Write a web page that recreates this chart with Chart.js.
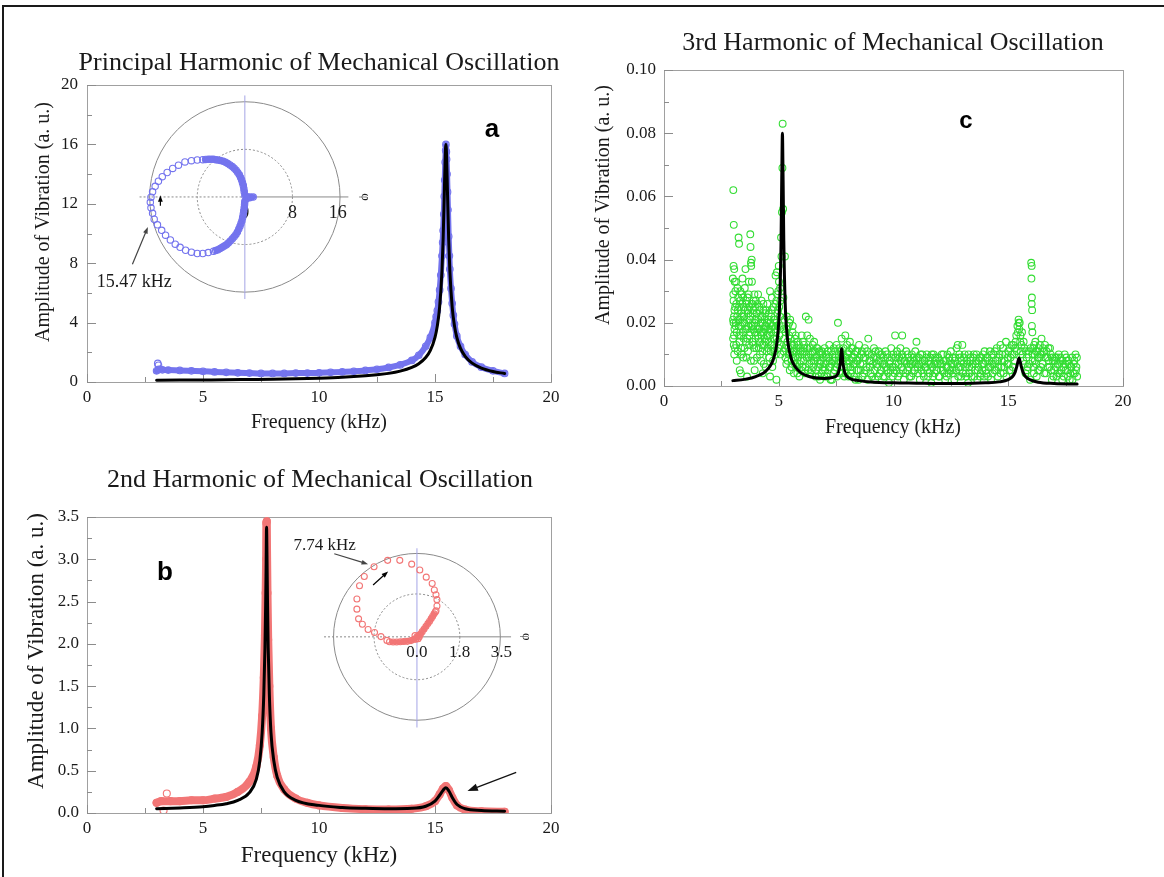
<!DOCTYPE html>
<html>
<head>
<meta charset="utf-8">
<title>Harmonics of Mechanical Oscillation</title>
<script src="https://cdn.jsdelivr.net/npm/chart.js@4.4.0/dist/chart.umd.min.js"></script>
<style>
    html, body { margin: 0; padding: 0; background: #fff; }
    #fig { position: relative; width: 1164px; height: 877px; overflow: hidden; background: #fff; }
    #fig canvas { position: absolute; }
    .frame { position: absolute; left: 2px; top: 5px; width: 1200px; height: 900px;
             border-top: 2px solid #1a1a1a; border-left: 2px solid #1a1a1a; }
</style>
</head>
<body>
<div id="fig">
    <div class="frame"></div>
    <canvas id="chartA"></canvas>
    <canvas id="chartB"></canvas>
    <canvas id="chartC"></canvas>
    <canvas id="insetA"></canvas>
    <canvas id="insetB"></canvas>
</div>
<script>
// ---------- data ----------

// (a) principal harmonic, fit (black) and measured (blue)
const aFitFreq = [3, 4, 5, 6, 7, 8, 9, 10, 11, 12, 12.5, 13, 13.5, 14, 14.3, 14.6, 14.8, 15.0, 15.1, 15.2, 15.3, 15.35, 15.4, 15.44, 15.47, 15.5, 15.54, 15.59, 15.64, 15.74, 15.84, 15.94, 16.1, 16.3, 16.6, 17, 17.5, 18];
const aFitAmp  = [0.12, 0.13, 0.14, 0.15, 0.17, 0.19, 0.22, 0.26, 0.32, 0.42, 0.49, 0.58, 0.73, 0.98, 1.23, 1.65, 2.13, 3.01, 3.78, 5.06, 7.48, 9.6, 12.63, 15.18, 16.0, 15.18, 12.63, 9.6, 7.48, 5.06, 3.78, 3.01, 2.26, 1.73, 1.27, 0.94, 0.71, 0.57];
const aDataFreq = [3.0, 3.1, 3.25, 3.5, 4, 4.5, 5, 5.5, 6, 6.5, 7, 7.5, 8, 8.5, 9, 9.5, 10, 10.5, 11, 11.5, 12, 12.5, 13, 13.5, 14, 14.3, 14.6, 14.8, 15.0, 15.05, 15.1, 15.15, 15.2, 15.25, 15.3, 15.33, 15.35, 15.38, 15.4, 15.42, 15.44, 15.46, 15.47, 15.49, 15.5, 15.52, 15.54, 15.56, 15.59, 15.62, 15.64, 15.69, 15.74, 15.79, 15.84, 15.94, 16.1, 16.3, 16.6, 17, 17.5, 18];
const aDataAmp  = [0.75, 0.85, 0.82, 0.8, 0.78, 0.75, 0.72, 0.68, 0.65, 0.62, 0.6, 0.58, 0.58, 0.58, 0.6, 0.6, 0.62, 0.65, 0.68, 0.72, 0.78, 0.86, 0.98, 1.15, 1.45, 1.8, 2.4, 3.0, 4.0, 4.4, 4.8, 5.4, 6.2, 7.2, 8.5, 9.4, 10.2, 11.3, 12.5, 13.6, 14.8, 15.6, 16.0, 15.5, 15.0, 14.0, 12.8, 11.6, 9.8, 8.5, 7.6, 6.3, 5.3, 4.5, 3.9, 3.1, 2.4, 1.85, 1.35, 1.0, 0.75, 0.58];
const aExtraFreq = [3.05, 3.08];
const aExtraAmp  = [1.25, 1.12];

// (a) inset, polar plot (x = A cos phi, y = A sin phi)
const aPolarDense = [[-7.07, 6.31], [-6.6, 6.35], [-6.15, 6.37], [-5.7, 6.38], [-5.27, 6.37], [-4.9, 6.32], [-4.52, 6.26], [-4.1, 6.16], [-3.64, 6.04], [-3.25, 5.87], [-2.88, 5.66], [-2.5, 5.42], [-2.12, 5.17], [-1.8, 4.86], [-1.47, 4.52], [-1.2, 4.15], [-0.93, 3.75], [-0.72, 3.3], [-0.54, 2.88], [-0.4, 2.4], [-0.27, 1.96], [-0.17, 1.4], [-0.11, 0.87], [0.0, 0.2], [0.4, 0.05], [0.9, 0.0], [1.4, -0.03], [0.8, -0.15], [0.3, -0.25], [0.0, -0.76], [-0.05, -1.3], [-0.11, -1.85], [-0.18, -2.4], [-0.27, -2.94], [-0.37, -3.5], [-0.49, -4.03], [-0.65, -4.5], [-0.82, -4.95], [-1.02, -5.45], [-1.25, -5.93], [-1.5, -6.35], [-1.8, -6.74], [-2.1, -7.1], [-2.45, -7.46], [-2.78, -7.8], [-3.1, -8.11], [-3.45, -8.33], [-3.8, -8.54], [-4.15, -8.75], [-4.52, -8.93], [-4.9, -9.07], [-5.27, -9.19]];
const aPolarSparse = [[-8.0, 6.26], [-8.98, 6.15], [-10.07, 5.93], [-11.16, 5.39], [-12.13, 4.84], [-13.06, 4.14], [-13.88, 3.43], [-14.53, 2.67], [-15.08, 1.8], [-15.51, 0.87], [-15.78, -0.05], [-15.89, -0.92], [-15.78, -1.85], [-15.51, -2.78], [-15.24, -3.76], [-14.69, -4.73], [-13.98, -5.66], [-13.33, -6.48], [-12.52, -7.29], [-11.7, -8.0], [-10.89, -8.54], [-9.96, -9.03], [-8.98, -9.36], [-8.0, -9.58], [-7.07, -9.58], [-6.15, -9.42]];

// (b) second harmonic, fit (black) and measured (red)
const bFitFreq = [3, 4, 5, 5.5, 6, 6.5, 7, 7.3, 7.45, 7.55, 7.62, 7.67, 7.7, 7.72, 7.74, 7.76, 7.78, 7.81, 7.86, 7.93, 8.05, 8.2, 8.5, 9, 10, 11, 12, 13, 14, 14.6, 15.0, 15.2, 15.35, 15.47, 15.6, 15.75, 15.95, 16.3, 17, 18];
const bFitAmp  = [0.05, 0.06, 0.075, 0.09, 0.11, 0.15, 0.24, 0.4, 0.62, 0.95, 1.4, 1.95, 2.45, 2.9, 3.38, 3.0, 2.5, 1.95, 1.4, 0.95, 0.62, 0.42, 0.25, 0.15, 0.09, 0.065, 0.055, 0.05, 0.055, 0.08, 0.14, 0.21, 0.27, 0.3, 0.26, 0.18, 0.1, 0.05, 0.03, 0.02];
const bDataFreq = [3.0, 3.2, 3.6, 4, 4.5, 5, 5.5, 6, 6.5, 7, 7.3, 7.45, 7.55, 7.62, 7.67, 7.7, 7.72, 7.73, 7.75, 7.76, 7.78, 7.81, 7.86, 7.93, 8.05, 8.2, 8.5, 9, 9.5, 10, 11, 12, 13, 14, 14.6, 15.0, 15.2, 15.35, 15.47, 15.6, 15.75, 15.95, 16.3, 17, 18];
const bDataAmp  = [0.12, 0.14, 0.14, 0.14, 0.15, 0.15, 0.17, 0.19, 0.25, 0.37, 0.55, 0.8, 1.15, 1.6, 2.1, 2.6, 3.0, 3.43, 3.45, 3.1, 2.6, 2.05, 1.5, 1.0, 0.66, 0.44, 0.28, 0.17, 0.12, 0.09, 0.06, 0.045, 0.04, 0.05, 0.08, 0.14, 0.22, 0.29, 0.32, 0.27, 0.18, 0.09, 0.04, 0.02, 0.015];
const bExtraFreq = [3.44, 3.3];
const bExtraAmp  = [0.23, 0.03];

// (b) inset, polar plot
const bPolarDense = [[-1.15, -0.21], [-1.0, -0.22], [-0.85, -0.22], [-0.7, -0.21], [-0.55, -0.2], [-0.4, -0.19], [-0.25, -0.16], [-0.12, -0.1], [0, 0], [0.08, 0.06], [0.15, 0.12], [0.22, 0.22], [0.3, 0.33], [0.38, 0.45], [0.46, 0.56], [0.53, 0.66], [0.6, 0.77], [0.66, 0.87], [0.72, 0.97], [0.77, 1.05]];
const bPolarSparse = [[0.80, 1.10], [0.84, 1.30], [0.84, 1.57], [0.80, 1.78], [0.73, 1.98], [0.64, 2.25], [0.39, 2.52], [0.12, 2.82], [-0.22, 3.07], [-0.72, 3.23], [-1.23, 3.23], [-1.80, 2.96], [-2.21, 2.55], [-2.41, 2.16], [-2.52, 1.60], [-2.52, 1.17], [-2.45, 0.76], [-2.29, 0.53], [-2.05, 0.31], [-1.78, 0.18], [-1.51, 0.01], [-1.26, -0.15], [0.05, -0.08], [-0.08, 0.05], [0.1, 0.0], [-0.05, -0.1]];

// (c) third harmonic, fit (black) and measured (green)
const cFitFreq = [3.0, 3.5, 4.0, 4.5, 4.8, 4.95, 5.04, 5.1, 5.13, 5.16, 5.19, 5.22, 5.28, 5.37, 5.52, 5.82, 6.32, 7.0, 7.4, 7.6, 7.68, 7.74, 7.8, 7.88, 8.1, 8.5, 9, 10, 11, 12, 13, 14, 14.6, 15.0, 15.2, 15.3, 15.38, 15.47, 15.56, 15.64, 15.74, 15.94, 16.3, 17, 18];
const cFitAmp  = [0.0017, 0.0021, 0.003, 0.0052, 0.0093, 0.0157, 0.0264, 0.0459, 0.0651, 0.08, 0.0651, 0.0459, 0.0264, 0.0157, 0.0093, 0.0052, 0.003, 0.0024, 0.0028, 0.0043, 0.0071, 0.0118, 0.0071, 0.0042, 0.0024, 0.0017, 0.0013, 0.001, 0.0009, 0.0008, 0.0008, 0.001, 0.0013, 0.002, 0.0031, 0.0044, 0.0064, 0.0089, 0.0064, 0.0044, 0.0031, 0.002, 0.0012, 0.0008, 0.0006];
const cData = [
    [3.02,0.062],[3.04,0.051],[3.03,0.038],[3.06,0.037],[3.0,0.034],[3.08,0.033],[3.02,0.029],[3.05,0.022],[3.03,0.020],[3.07,0.018],[3.01,0.015],[3.04,0.013],[3.06,0.010],[3.1,0.025],[3.12,0.019],[3.14,0.033],[3.15,0.013],[3.17,0.008],[3.2,0.031],[3.22,0.024],[3.24,0.021],[3.25,0.047],[3.27,0.045],[3.28,0.016],[3.3,0.005],[3.32,0.027],[3.34,0.019],[3.36,0.012],[3.38,0.029],[3.4,0.022],[3.42,0.034],[3.44,0.017],[3.46,0.009],[3.48,0.025],
    [3.5,0.020],[3.52,0.031],[3.55,0.037],[3.57,0.014],[3.6,0.026],[3.62,0.018],[3.64,0.028],[3.66,0.011],[3.68,0.023],[3.7,0.033],[3.72,0.016],[3.74,0.021],[3.76,0.048],[3.77,0.044],[3.79,0.039],[3.8,0.038],[3.82,0.040],[3.83,0.033],[3.85,0.026],[3.87,0.019],[3.89,0.013],[3.9,0.024],[3.92,0.008],[3.94,0.029],[3.96,0.017],[3.98,0.021],[4.0,0.027],[4.02,0.012],[4.05,0.023],[4.07,0.018],[4.1,0.029],[4.12,0.015],[4.15,0.025],[4.18,0.010],[4.2,0.022],[4.22,0.017],[4.25,0.027],[4.28,0.013],[4.3,0.020],[4.33,0.024],[4.35,0.007],[4.38,0.018],[4.4,0.023],[4.42,0.014],[4.45,0.019],[4.48,0.011],
    [4.5,0.026],[4.52,0.016],[4.55,0.021],[4.58,0.009],[4.6,0.018],[4.62,0.030],[4.65,0.013],[4.68,0.022],[4.7,0.028],[4.72,0.006],[4.75,0.019],[4.78,0.025],[4.8,0.015],[4.82,0.011],[4.84,0.021],[4.86,0.035],[4.88,0.017],[4.9,0.027],[4.92,0.036],[4.94,0.023],[4.96,0.014],[4.98,0.030],[5.0,0.038],[5.02,0.025],[5.04,0.019],[5.06,0.031],[5.08,0.010],[5.1,0.047],[5.12,0.041],[5.14,0.055],[5.16,0.069],[5.17,0.083],[5.19,0.056],[5.2,0.028],[5.22,0.018],[5.25,0.021],[5.27,0.041],[5.28,0.012],[5.3,0.017],[5.33,0.007],[5.35,0.022],[5.38,0.014],[5.4,0.019],[5.43,0.010],[5.45,0.016],[5.48,0.005],
    [5.5,0.021],[5.53,0.013],[5.56,0.008],[5.6,0.017],[5.63,0.011],[5.66,0.004],[5.7,0.015],[5.73,0.009],[5.76,0.012],[5.8,0.006],[5.83,0.014],[5.86,0.010],[5.9,0.003],[5.93,0.012],[5.96,0.008],[6.0,0.016],[6.03,0.006],[6.06,0.011],[6.1,0.013],[6.14,0.004],[6.18,0.022],[6.22,0.009],[6.25,0.012],[6.3,0.021],[6.33,0.007],[6.36,0.015],[6.4,0.010],[6.44,0.005],[6.48,0.013],[6.52,0.008],[6.56,0.011],[6.6,0.003],[6.64,0.009],[6.68,0.012],[6.72,0.006],[6.76,0.010],[6.8,0.002],[6.84,0.008],[6.88,0.011],[6.92,0.005],[6.96,0.009],
    [7.0,0.012],[7.04,0.007],[7.08,0.010],[7.12,0.004],[7.16,0.009],[7.2,0.013],[7.24,0.006],[7.28,0.011],[7.32,0.002],[7.36,0.008],[7.4,0.012],[7.44,0.005],[7.48,0.009],[7.52,0.013],[7.56,0.007],[7.58,0.020],[7.62,0.010],[7.66,0.004],[7.7,0.011],[7.74,0.015],[7.78,0.008],[7.82,0.012],[7.86,0.003],[7.9,0.016],[7.94,0.009],[7.98,0.013],[8.02,0.006],[8.06,0.011],[8.1,0.014],[8.14,0.004],[8.18,0.009],[8.22,0.012],[8.26,0.007],[8.3,0.010],[8.34,0.002],[8.38,0.008],[8.42,0.011],[8.46,0.005],
    [8.5,0.013],[8.55,0.007],[8.6,0.010],[8.65,0.003],[8.7,0.009],[8.75,0.012],[8.8,0.005],[8.85,0.011],[8.9,0.015],[8.95,0.008],[9.0,0.004],[9.05,0.010],[9.1,0.007],[9.15,0.012],[9.2,0.002],[9.25,0.009],[9.3,0.006],[9.35,0.011],[9.4,0.004],[9.45,0.008],[9.5,0.010],[9.55,0.003],[9.6,0.007],[9.65,0.011],[9.7,0.005],[9.75,0.009],[9.8,0.001],[9.85,0.008],[9.9,0.012],[9.95,0.006],
    [10.0,0.010],[10.05,0.004],[10.07,0.016],[10.1,0.007],[10.15,0.011],[10.2,0.003],[10.25,0.009],[10.3,0.012],[10.35,0.006],[10.38,0.016],[10.4,0.009],[10.45,0.002],[10.5,0.008],[10.55,0.011],[10.6,0.005],[10.65,0.009],[10.7,0.003],[10.75,0.007],[10.8,0.010],[10.85,0.004],[10.9,0.008],[10.95,0.011],[11.0,0.014],[11.05,0.006],[11.1,0.009],[11.15,0.002],[11.2,0.007],[11.25,0.010],[11.3,0.004],[11.35,0.008],[11.4,0.006],[11.45,0.010],[11.5,0.003],[11.55,0.007],[11.6,0.009],[11.65,0.001],[11.7,0.006],[11.75,0.010],[11.8,0.004],[11.85,0.008],[11.9,0.005],[11.95,0.009],
    [12.0,0.003],[12.05,0.007],[12.1,0.010],[12.15,0.005],[12.2,0.008],[12.25,0.002],[12.3,0.006],[12.35,0.010],[12.4,0.004],[12.45,0.008],[12.5,0.011],[12.55,0.005],[12.6,0.007],[12.65,0.002],[12.7,0.009],[12.75,0.012],[12.8,0.013],[12.85,0.006],[12.9,0.009],[12.95,0.003],[13.0,0.013],[13.05,0.007],[13.1,0.010],[13.15,0.004],[13.2,0.008],[13.25,0.001],[13.3,0.006],[13.35,0.009],[13.4,0.003],[13.45,0.007],[13.5,0.010],[13.55,0.005],[13.6,0.008],[13.65,0.002],[13.7,0.006],[13.75,0.009],[13.8,0.004],[13.85,0.007],[13.9,0.010],[13.95,0.003],
    [14.0,0.008],[14.05,0.004],[14.1,0.009],[14.15,0.006],[14.2,0.011],[14.25,0.002],[14.3,0.007],[14.35,0.010],[14.4,0.005],[14.45,0.008],[14.5,0.012],[14.55,0.003],[14.6,0.009],[14.66,0.013],[14.7,0.006],[14.75,0.010],[14.8,0.004],[14.85,0.008],[14.9,0.014],[14.95,0.007],[15.0,0.011],[15.05,0.005],[15.1,0.009],[15.15,0.013],[15.2,0.006],[15.25,0.010],[15.3,0.012],[15.35,0.016],[15.4,0.019],[15.45,0.021],[15.48,0.018],[15.5,0.020],[15.52,0.014],[15.55,0.011],[15.6,0.017],[15.65,0.008],[15.7,0.012],[15.75,0.004],[15.8,0.009],[15.85,0.006],[15.9,0.011],[15.95,0.002],
    [16.0,0.039],[16.02,0.038],[16.01,0.034],[16.03,0.028],[16.02,0.026],[16.04,0.024],[16.03,0.019],[16.05,0.017],[16.07,0.010],[16.1,0.006],[16.13,0.013],[16.16,0.008],[16.2,0.011],[16.24,0.003],[16.28,0.009],[16.32,0.012],[16.36,0.005],[16.4,0.010],[16.45,0.015],[16.5,0.007],[16.55,0.011],[16.6,0.013],[16.65,0.004],[16.7,0.009],[16.75,0.012],[16.8,0.006],[16.85,0.010],[16.9,0.002],[16.95,0.008],[17.0,0.005],[17.05,0.009],[17.1,0.003],[17.15,0.007],[17.2,0.010],[17.25,0.004],[17.3,0.008],[17.35,0.002],[17.4,0.006],[17.46,0.010],[17.5,0.005],[17.55,0.008],[17.6,0.003],[17.65,0.007],[17.7,0.004],[17.75,0.006],[17.8,0.002],[17.85,0.007],[17.9,0.004],[17.93,0.010],[17.97,0.006],[18.0,0.003]
];
// second pass over the dense part of the green cloud
const cDataDense = [
    [3.01,0.021],[3.03,0.027],[3.05,0.016],[3.07,0.024],[3.09,0.012],[3.11,0.030],[3.13,0.020],[3.15,0.026],[3.17,0.017],[3.19,0.022],[3.21,0.011],[3.23,0.028],[3.25,0.019],[3.27,0.025],[3.29,0.014],[3.31,0.021],[3.33,0.030],[3.35,0.016],[3.37,0.023],[3.39,0.010],[3.41,0.026],[3.43,0.020],[3.45,0.028],[3.47,0.015],[3.49,0.022],[3.51,0.012],[3.53,0.024],[3.55,0.018],[3.57,0.027],[3.59,0.009],[3.61,0.021],[3.63,0.015],[3.65,0.024],[3.67,0.019],[3.69,0.029],[3.71,0.013],[3.73,0.025],[3.75,0.017],[3.77,0.022],[3.79,0.008],[3.81,0.019],[3.83,0.026],[3.85,0.014],[3.87,0.023],[3.89,0.018],[3.91,0.027],[3.93,0.012],[3.95,0.020],[3.97,0.025],[3.99,0.015],
    [4.01,0.019],[4.03,0.023],[4.05,0.009],[4.07,0.026],[4.09,0.016],[4.11,0.021],[4.13,0.012],[4.15,0.018],[4.17,0.024],[4.19,0.014],[4.21,0.020],[4.23,0.008],[4.25,0.016],[4.27,0.022],[4.29,0.011],[4.31,0.017],[4.33,0.026],[4.35,0.013],[4.37,0.021],[4.39,0.015],[4.41,0.019],[4.43,0.006],[4.45,0.024],[4.47,0.016],[4.49,0.020],[4.51,0.012],[4.53,0.018],[4.55,0.014],[4.57,0.023],[4.59,0.009],[4.61,0.016],[4.63,0.020],[4.65,0.011],[4.67,0.017],[4.69,0.024],[4.71,0.013],[4.73,0.019],[4.75,0.008],[4.77,0.015],[4.79,0.021],[4.81,0.012],[4.83,0.018],[4.85,0.026],[4.87,0.010],[4.89,0.020],[4.91,0.015],[4.93,0.029],[4.95,0.019],[4.97,0.024],[4.99,0.012],[5.01,0.033],[5.03,0.016],[5.05,0.022],[5.07,0.027],[5.09,0.013],
    [3.35,0.004],[3.62,0.003],[3.95,0.005],[4.3,0.004],[4.62,0.003],[4.9,0.002],
    [5.21,0.011],[5.24,0.015],[5.29,0.009],[5.32,0.013],[5.36,0.018],[5.39,0.008],[5.42,0.012],[5.46,0.020],[5.49,0.010],[5.52,0.015],[5.55,0.006],[5.58,0.012],[5.61,0.019],[5.64,0.009],[5.67,0.013],[5.71,0.007],[5.74,0.016],[5.77,0.011],[5.81,0.004],[5.84,0.009],[5.88,0.013],[5.91,0.007],[5.95,0.011],[5.98,0.005],[6.02,0.010],[6.05,0.014],[6.08,0.008],[6.12,0.012],[6.16,0.006],[6.2,0.010],[6.24,0.016],[6.28,0.005],[6.31,0.009],[6.35,0.012],[6.38,0.004],[6.42,0.008],[6.46,0.011],[6.5,0.006],[6.54,0.014],[6.58,0.009],[6.62,0.005],[6.66,0.012],[6.7,0.008],[6.74,0.003],[6.78,0.011],[6.82,0.007],[6.86,0.004],[6.9,0.010],[6.94,0.006],[6.98,0.003],
    [7.02,0.005],[7.06,0.009],[7.1,0.003],[7.14,0.011],[7.18,0.006],[7.22,0.008],[7.26,0.002],[7.3,0.007],[7.34,0.010],[7.38,0.004],[7.42,0.008],[7.46,0.011],[7.5,0.006],[7.54,0.003],[7.6,0.008],[7.64,0.012],[7.68,0.006],[7.72,0.009],[7.76,0.004],[7.8,0.010],[7.84,0.006],[7.88,0.009],[7.92,0.004],[7.96,0.007],[8.0,0.010],[8.04,0.003],[8.08,0.008],[8.12,0.006],[8.16,0.012],[8.2,0.005],[8.24,0.009],[8.28,0.003],[8.32,0.007],[8.36,0.011],[8.4,0.005],[8.44,0.008],[8.48,0.002],
    [8.52,0.009],[8.57,0.005],[8.62,0.011],[8.67,0.007],[8.72,0.004],[8.77,0.009],[8.82,0.006],[8.87,0.002],[8.92,0.010],[8.97,0.006],[9.02,0.008],[9.07,0.003],[9.12,0.009],[9.17,0.005],[9.22,0.011],[9.27,0.007],[9.32,0.003],[9.37,0.008],[9.42,0.010],[9.47,0.005],[9.52,0.007],[9.57,0.009],[9.62,0.003],[9.67,0.006],[9.72,0.010],[9.77,0.004],[9.82,0.007],[9.87,0.005],[9.92,0.009],[9.97,0.003],
    [10.02,0.006],[10.08,0.009],[10.12,0.005],[10.17,0.010],[10.22,0.007],[10.27,0.004],[10.32,0.008],[10.37,0.010],[10.42,0.005],[10.47,0.008],[10.52,0.004],[10.57,0.007],[10.62,0.010],[10.67,0.006],[10.72,0.008],[10.77,0.003],[10.82,0.007],[10.87,0.009],[10.92,0.005],[10.97,0.007],[11.02,0.009],[11.07,0.004],[11.12,0.007],[11.17,0.010],[11.22,0.005],[11.27,0.008],[11.32,0.003],[11.37,0.006],[11.42,0.009],[11.47,0.005],[11.52,0.008],[11.57,0.004],[11.62,0.007],[11.67,0.010],[11.72,0.003],[11.77,0.007],[11.82,0.009],[11.87,0.005],[11.92,0.007],[11.97,0.003],
    [12.02,0.008],[12.07,0.005],[12.12,0.007],[12.17,0.010],[12.22,0.004],[12.27,0.008],[12.32,0.003],[12.37,0.006],[12.42,0.009],[12.47,0.005],[12.52,0.007],[12.57,0.009],[12.62,0.004],[12.67,0.008],[12.72,0.005],[12.77,0.007],[12.82,0.003],[12.87,0.010],[12.92,0.006],[12.97,0.008],[13.02,0.004],[13.07,0.009],[13.12,0.006],[13.17,0.003],[13.22,0.007],[13.27,0.010],[13.32,0.004],[13.37,0.008],[13.42,0.006],[13.47,0.009],[13.52,0.003],[13.57,0.007],[13.62,0.010],[13.67,0.005],[13.72,0.008],[13.77,0.003],[13.82,0.009],[13.87,0.005],[13.92,0.007],[13.97,0.011],
    [14.02,0.005],[14.07,0.009],[14.12,0.003],[14.17,0.008],[14.22,0.006],[14.27,0.010],[14.32,0.004],[14.37,0.007],[14.42,0.011],[14.47,0.005],[14.52,0.008],[14.57,0.006],[14.62,0.010],[14.67,0.004],[14.72,0.008],[14.77,0.012],[14.82,0.006],[14.87,0.010],[14.92,0.003],[14.97,0.009],
    [15.02,0.007],[15.07,0.012],[15.12,0.005],[15.17,0.010],[15.22,0.013],[15.27,0.008],[15.32,0.014],[15.37,0.011],[15.42,0.017],[15.46,0.020],[15.53,0.016],[15.58,0.013],[15.62,0.010],[15.67,0.014],[15.72,0.007],[15.77,0.011],[15.82,0.005],[15.87,0.010],[15.92,0.007],[15.97,0.012],
    [16.06,0.008],[16.09,0.012],[16.12,0.004],[16.15,0.010],[16.18,0.014],[16.22,0.007],[16.26,0.011],[16.3,0.005],[16.34,0.009],[16.38,0.013],[16.42,0.006],[16.47,0.010],[16.52,0.012],[16.57,0.004],[16.62,0.009],[16.67,0.011],[16.72,0.006],[16.77,0.008],[16.82,0.012],[16.87,0.005],[16.92,0.009],[16.97,0.003],
    [17.02,0.008],[17.07,0.006],[17.12,0.009],[17.17,0.004],[17.22,0.007],[17.27,0.009],[17.32,0.005],[17.37,0.008],[17.42,0.003],[17.48,0.007],[17.53,0.009],[17.58,0.005],[17.63,0.008],[17.68,0.002],[17.73,0.006],[17.78,0.009],[17.83,0.004],[17.88,0.008],[17.95,0.005],[17.99,0.009]
];

// ---------- styling ----------
const SERIF = "'Liberation Serif', 'Times New Roman', serif";
const SANS = "'Liberation Sans', Arial, sans-serif";
const BLUE = '#7474ee';
const RED = '#f27676';
const GREEN = '#33dd33';

const xy = (fs, as) => fs.map((f, i) => ({ x: f, y: as[i] }));
const pairs = list => list.map(([x, y]) => ({ x, y }));

function drawArrow(ctx, x1, y1, x2, y2, color, head) {
    const ang = Math.atan2(y2 - y1, x2 - x1);
    ctx.strokeStyle = color;
    ctx.fillStyle = color;
    ctx.lineWidth = 1.2;
    ctx.beginPath();
    ctx.moveTo(x1, y1);
    ctx.lineTo(x2 - Math.cos(ang) * head * 0.6, y2 - Math.sin(ang) * head * 0.6);
    ctx.stroke();
    ctx.beginPath();
    ctx.moveTo(x2, y2);
    ctx.lineTo(x2 - head * Math.cos(ang - 0.35), y2 - head * Math.sin(ang - 0.35));
    ctx.lineTo(x2 - head * Math.cos(ang + 0.35), y2 - head * Math.sin(ang + 0.35));
    ctx.closePath();
    ctx.fill();
}

// frame, inward ticks, titles and panel letter
const panelDecor = {
    id: 'panelDecor',
    beforeDatasetsDraw(chart, args, o) {
        const { ctx, chartArea: a, scales: { x, y } } = chart;
        ctx.save();
        ctx.strokeStyle = '#a0a0a0';
        ctx.lineWidth = 1;
        ctx.strokeRect(Math.round(a.left) + 0.5, Math.round(a.top) + 0.5, Math.round(a.right - a.left), Math.round(a.bottom - a.top));
        ctx.strokeStyle = '#8c8c8c';
        ctx.beginPath();
        const nx = Math.round((x.max - x.min) / o.minorX);
        for (let i = 0; i <= nx; i++) {
            const px = Math.round(x.getPixelForValue(x.min + i * o.minorX)) + 0.5;
            const len = i % 2 === 0 ? 8 : 5;
            ctx.moveTo(px, a.bottom);
            ctx.lineTo(px, a.bottom - len);
        }
        const ny = Math.round((y.max - y.min) / o.minorY);
        for (let i = 0; i <= ny; i++) {
            const py = Math.round(y.getPixelForValue(y.min + i * o.minorY)) + 0.5;
            const len = i % 2 === 0 ? 9 : 5;
            ctx.moveTo(a.left, py);
            ctx.lineTo(a.left + len, py);
        }
        ctx.stroke();
        ctx.restore();
    },
    afterDraw(chart, args, o) {
        const { ctx, scales: { x, y } } = chart;
        ctx.save();
        ctx.fillStyle = '#1a1a1a';
        ctx.textAlign = 'center';
        ctx.textBaseline = 'middle';
        ctx.font = `${o.titleSize}px ${SERIF}`;
        ctx.fillText(o.title, o.titleX - o.ox, o.titleY - o.oy);
        ctx.font = `${o.axisSize}px ${SERIF}`;
        ctx.fillText('Frequency (kHz)', o.xTitleX - o.ox, o.xTitleY - o.oy);
        ctx.save();
        ctx.translate(o.yTitleX - o.ox, o.yTitleY - o.oy);
        ctx.rotate(-Math.PI / 2);
        ctx.fillText('Amplitude of Vibration (a. u.)', 0, 0);
        ctx.restore();
        ctx.fillStyle = '#000';
        ctx.font = `bold ${o.letterSize}px ${SANS}`;
        ctx.fillText(o.letter, o.letterX - o.ox, o.letterY - o.oy);
        (o.arrows || []).forEach(([f1, a1, f2, a2]) => {
            drawArrow(ctx, x.getPixelForValue(f1), y.getPixelForValue(a1), x.getPixelForValue(f2), y.getPixelForValue(a2), '#111', 11);
        });
        ctx.restore();
    }
};

// rings, axes, labels and arrows of the polar insets
const polarDecor = {
    id: 'polarDecor',
    beforeDatasetsDraw(chart, args, o) {
        const { ctx, scales: { x, y } } = chart;
        const cx = x.getPixelForValue(0), cy = y.getPixelForValue(0);
        const rad = v => x.getPixelForValue(v) - cx;
        ctx.save();
        ctx.lineWidth = 1;
        ctx.strokeStyle = '#8a8a8a';
        ctx.beginPath();
        ctx.arc(cx, cy, rad(o.outer), 0, Math.PI * 2);
        ctx.stroke();
        ctx.setLineDash([2, 2]);
        ctx.beginPath();
        ctx.arc(cx, cy, rad(o.inner), 0, Math.PI * 2);
        ctx.stroke();
        ctx.beginPath();
        ctx.moveTo(x.getPixelForValue(o.axisLeft), cy);
        ctx.lineTo(cx, cy);
        ctx.stroke();
        ctx.setLineDash([]);
        ctx.beginPath();
        ctx.moveTo(cx, cy);
        ctx.lineTo(x.getPixelForValue(o.axisRight), cy);
        ctx.stroke();
        ctx.strokeStyle = '#a4a4e6';
        ctx.beginPath();
        ctx.moveTo(cx, y.getPixelForValue(o.axisTop));
        ctx.lineTo(cx, y.getPixelForValue(o.axisBottom));
        ctx.stroke();

        ctx.fillStyle = '#1a1a1a';
        ctx.font = `${o.labelSize}px ${SERIF}`;
        ctx.textAlign = 'center';
        ctx.textBaseline = 'top';
        o.ringLabels.forEach(([v, t]) => ctx.fillText(t, x.getPixelForValue(v), cy + o.labelDy));

        ctx.save();
        ctx.translate(x.getPixelForValue(o.phiAt), cy);
        ctx.rotate(Math.PI / 2);
        ctx.font = `13px ${SERIF}`;
        ctx.textBaseline = 'middle';
        ctx.fillText('\u03c6', 0, 0);
        ctx.restore();
        ctx.restore();
    },
    afterDatasetsDraw(chart, args, o) {
        const { ctx, scales: { x, y } } = chart;
        ctx.save();
        ctx.fillStyle = '#1a1a1a';
        ctx.font = `${o.freqSize}px ${SERIF}`;
        ctx.textAlign = 'center';
        ctx.textBaseline = 'middle';
        ctx.fillText(o.freqText, x.getPixelForValue(o.freqAt[0]), y.getPixelForValue(o.freqAt[1]));
        o.arrows.forEach(([x1, y1, x2, y2, c]) => {
            drawArrow(ctx, x.getPixelForValue(x1), y.getPixelForValue(y1), x.getPixelForValue(x2), y.getPixelForValue(y2), c, 7);
        });
        ctx.restore();
    }
};

function place(id, g) {
    const cv = document.getElementById(id);
    cv.width = g.width;
    cv.height = g.height;
    cv.style.left = g.left + 'px';
    cv.style.top = g.top + 'px';
    return cv;
}

function panelOptions(p) {
    const tickFont = { family: SERIF, size: 17 };
    return {
        responsive: false,
        animation: false,
        events: [],
        layout: { padding: { top: p.area.top - p.top, right: p.left + p.width - p.area.right, left: 0, bottom: 0 } },
        plugins: { legend: { display: false }, tooltip: { enabled: false }, panelDecor: p.decor },
        scales: {
            x: {
                type: 'linear', min: 0, max: 20,
                afterFit: s => { s.height = p.top + p.height - p.area.bottom; },
                grid: { display: false, drawTicks: false }, border: { display: false },
                ticks: { stepSize: 5, padding: 5, maxRotation: 0, color: '#1a1a1a', font: tickFont }
            },
            y: {
                type: 'linear', min: p.yMin, max: p.yMax,
                afterFit: s => { s.width = p.area.left - p.left; },
                grid: { display: false, drawTicks: false }, border: { display: false },
                ticks: { stepSize: p.yStep, padding: p.yPad, color: '#1a1a1a', font: tickFont,
                         callback: v => v.toFixed(p.yDec) }
            }
        }
    };
}

function insetOptions(g, decor) {
    return {
        responsive: false,
        animation: false,
        events: [],
        layout: { padding: 0 },
        plugins: { legend: { display: false }, tooltip: { enabled: false }, polarDecor: decor },
        scales: {
            x: { type: 'linear', display: false, min: (g.left - g.cx) / g.ppu, max: (g.left + g.width - g.cx) / g.ppu },
            y: { type: 'linear', display: false, min: (g.cy - g.top - g.height) / g.ppu, max: (g.cy - g.top) / g.ppu }
        }
    };
}

const hollow = (color, r) => ({
    pointRadius: r, pointBorderWidth: 1.1, pointBorderColor: color,
    pointBackgroundColor: 'rgba(255,255,255,0)', pointHoverRadius: r
});
const smoothLine = (color, width) => ({
    showLine: true, borderColor: color, borderWidth: width, borderJoinStyle: 'round', borderCapStyle: 'round',
    cubicInterpolationMode: 'monotone'
});

// ---------- panel (a) ----------
const panelA = {
    left: 0, top: 0, width: 590, height: 445,
    area: { left: 87, top: 85, right: 551, bottom: 382 },
    yMin: 0, yMax: 20, yStep: 4, yDec: 0, yPad: 9,
    decor: {
        ox: 0, oy: 0, minorX: 2.5, minorY: 2,
        title: 'Principal Harmonic of Mechanical Oscillation', titleSize: 26, titleX: 319, titleY: 63,
        axisSize: 20, xTitleX: 319, xTitleY: 423, yTitleX: 44, yTitleY: 222,
        letter: 'a', letterSize: 26, letterX: 492, letterY: 130
    }
};
new Chart(place('chartA', panelA), {
    type: 'scatter',
    data: {
        datasets: [
            { data: xy(aFitFreq, aFitAmp), ...smoothLine('#000', 3), pointRadius: 0 },
            { data: xy(aDataFreq, aDataAmp), ...smoothLine(BLUE, 6), ...hollow(BLUE, 3.3) },
            { data: xy(aExtraFreq, aExtraAmp), showLine: false, ...hollow(BLUE, 3.3) }
        ]
    },
    options: panelOptions(panelA),
    plugins: [panelDecor]
});

// ---------- panel (b) ----------
const panelB = {
    left: 0, top: 440, width: 590, height: 437,
    area: { left: 87, top: 517, right: 551, bottom: 813 },
    yMin: 0, yMax: 3.5, yStep: 0.5, yDec: 1, yPad: 8,
    decor: {
        ox: 0, oy: 440, minorX: 2.5, minorY: 0.25,
        title: '2nd Harmonic of Mechanical Oscillation', titleSize: 26, titleX: 320, titleY: 480,
        axisSize: 23, xTitleX: 319, xTitleY: 856, yTitleX: 37, yTitleY: 651,
        letter: 'b', letterSize: 26, letterX: 165, letterY: 573,
        arrows: [[18.5, 0.48, 16.4, 0.26]]
    }
};
new Chart(place('chartB', panelB), {
    type: 'scatter',
    data: {
        datasets: [
            { data: xy(bFitFreq, bFitAmp), ...smoothLine('#000', 3), pointRadius: 0 },
            { data: xy(bDataFreq, bDataAmp), ...smoothLine(RED, 8), ...hollow(RED, 3.5) },
            { data: xy(bExtraFreq, bExtraAmp), showLine: false, ...hollow(RED, 3.5) }
        ]
    },
    options: panelOptions(panelB),
    plugins: [panelDecor]
});

// ---------- panel (c) ----------
const panelC = {
    left: 590, top: 0, width: 574, height: 445,
    area: { left: 664, top: 70, right: 1123, bottom: 386 },
    yMin: 0, yMax: 0.1, yStep: 0.02, yDec: 2, yPad: 8,
    decor: {
        ox: 590, oy: 0, minorX: 2.5, minorY: 0.01,
        title: '3rd Harmonic of Mechanical Oscillation', titleSize: 26, titleX: 893, titleY: 43,
        axisSize: 20, xTitleX: 893, xTitleY: 428, yTitleX: 604, yTitleY: 205,
        letter: 'c', letterSize: 24, letterX: 966, letterY: 121
    }
};
new Chart(place('chartC', panelC), {
    type: 'scatter',
    data: {
        datasets: [
            { data: xy(cFitFreq, cFitAmp), ...smoothLine('#000', 3), pointRadius: 0 },
            { data: pairs(cData), showLine: false, ...hollow(GREEN, 3.4) },
            { data: pairs(cDataDense), showLine: false, ...hollow(GREEN, 3.4) }
        ]
    },
    options: panelOptions(panelC),
    plugins: [panelDecor]
});

// ---------- inset of (a) ----------
const insetA = { left: 90, top: 78, width: 300, height: 235, cx: 245, cy: 197, ppu: 98 / 16 };
new Chart(place('insetA', insetA), {
    type: 'scatter',
    data: {
        datasets: [
            { data: pairs(aPolarSparse), showLine: false, ...hollow(BLUE, 3.2) },
            { data: pairs(aPolarDense), showLine: true, borderColor: BLUE, borderWidth: 6, borderJoinStyle: 'round', tension: 0, ...hollow(BLUE, 3.2) }
        ]
    },
    options: insetOptions(insetA, {
        outer: 16, inner: 8, axisLeft: -17.7, axisRight: 17.4, axisTop: 17.2, axisBottom: -17.3,
        labelSize: 18, labelDy: 7, ringLabels: [[0, '0'], [8, '8'], [15.6, '16']], phiAt: 20.3,
        freqText: '15.47 kHz', freqSize: 18, freqAt: [-18.6, -14.5],
        arrows: [[-18.9, -11.4, -16.3, -5.1, '#444'], [-14.2, -1.5, -14.2, 0.3, '#000']]
    }),
    plugins: [polarDecor]
});

// ---------- inset of (b) ----------
const insetB = { left: 280, top: 520, width: 270, height: 225, cx: 417, cy: 637, ppu: 86 / 3.5 };
new Chart(place('insetB', insetB), {
    type: 'scatter',
    data: {
        datasets: [
            { data: pairs(bPolarSparse), showLine: false, ...hollow(RED, 3) },
            { data: pairs(bPolarDense), showLine: true, borderColor: RED, borderWidth: 5, borderJoinStyle: 'round', tension: 0, ...hollow(RED, 3) }
        ]
    },
    options: insetOptions(insetB, {
        outer: 3.5, inner: 1.8, axisLeft: -3.9, axisRight: 3.95, axisTop: 3.74, axisBottom: -3.83,
        labelSize: 17, labelDy: 7, ringLabels: [[0, '0.0'], [1.79, '1.8'], [3.54, '3.5']], phiAt: 4.6,
        freqText: '7.74 kHz', freqSize: 17, freqAt: [-3.87, 3.87],
        arrows: [[-3.47, 3.51, -2.05, 3.07, '#444'], [-1.84, 2.19, -1.21, 2.76, '#000']]
    }),
    plugins: [polarDecor]
});
</script>
</body>
</html>
